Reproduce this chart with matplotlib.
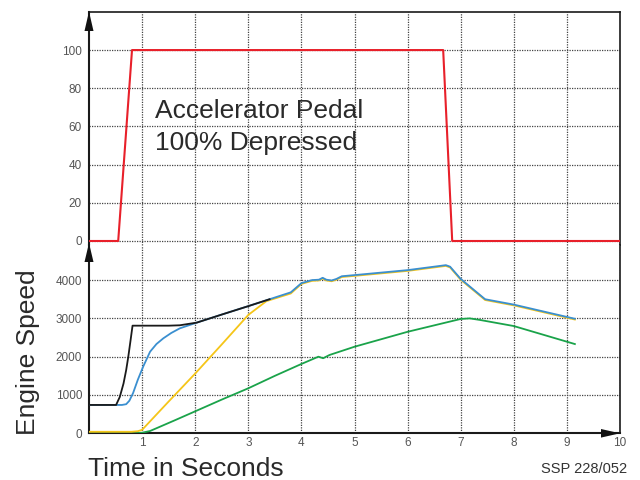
import matplotlib
matplotlib.use("Agg")
import matplotlib.pyplot as plt
from matplotlib.patches import Polygon

plt.rcParams['font.family'] = ['Liberation Sans', 'DejaVu Sans']

# accelerator pedal position (%)
pedal_t = [0, 0.55, 0.81, 6.67, 6.84, 10]
pedal_v = [0, 0, 100, 100, 0, 0]

# engine speed traces (rpm)
black_t = [0, 0.51, 0.58, 0.65, 0.70, 0.74, 0.78, 0.82, 1.0, 1.5, 1.71, 2.03, 2.5, 3.0, 3.4]
black_v = [740, 740, 950, 1300, 1650, 2000, 2400, 2810, 2810, 2810, 2820, 2890, 3100, 3320, 3500]

blue_t = [0, 0.62, 0.70, 0.76, 0.83, 0.92, 1.02, 1.15, 1.27, 1.40, 1.55, 1.71, 2.03, 2.5, 3.0,
          3.4, 3.8, 4.0, 4.2, 4.33, 4.40, 4.47, 4.57, 4.66, 4.76, 5.0, 6.0, 6.72, 6.8, 7.0,
          7.46, 8.0, 9.15]
blue_v = [740, 740, 760, 850, 1050, 1400, 1740, 2130, 2330, 2480, 2620, 2740, 2890, 3100, 3320,
          3500, 3680, 3920, 4000, 4010, 4060, 4010, 3990, 4030, 4100, 4130, 4260, 4390, 4350, 4030,
          3500, 3360, 2990]

yellow_t = [0, 0.80, 0.92, 1.0, 1.5, 2.0, 2.5, 3.0, 3.34, 3.8, 4.0, 4.2, 4.33, 4.40, 4.47, 4.57,
            4.66, 4.76, 5.0, 6.0, 6.72, 6.8, 7.0, 7.46, 8.0, 9.15]
yellow_v = [40, 40, 55, 90, 830, 1560, 2320, 3090, 3450, 3650, 3900, 3980, 3990, 4040, 3990, 3970,
            4010, 4080, 4110, 4240, 4370, 4330, 4010, 3480, 3340, 2970]

green_t = [0, 0.85, 1.0, 1.15, 1.3, 1.6, 2.0, 2.5, 3.0, 3.5, 4.0, 4.32, 4.41, 4.53, 5.0, 6.0,
           7.0, 7.17, 7.36, 8.0, 9.15]
green_v = [0, 0, 15, 60, 150, 330, 574, 880, 1175, 1500, 1810, 2000, 1960, 2045, 2260, 2650,
           2985, 3000, 2960, 2800, 2330]

pedal_ticks = [0, 20, 40, 60, 80, 100]
speed_ticks = [0, 1000, 2000, 3000, 4000]
time_ticks = [1, 2, 3, 4, 5, 6, 7, 8, 9, 10]

fig = plt.figure(figsize=(6.4, 4.8), dpi=100)
W, H = 640.0, 480.0
x0, x1 = 89, 620
ax_top = fig.add_axes([x0 / W, 1 - 245 / H, (x1 - x0) / W, (245 - 11.5) / H])
ax_bot = fig.add_axes([x0 / W, 1 - 433.3 / H, (x1 - x0) / W, (433.3 - 245) / H])

grid_kw = dict(color='#444444', linestyle=(0, (1, 1)), linewidth=0.9)

for ax in (ax_top, ax_bot):
    ax.set_xlim(0, 10)
    ax.set_xticks(time_ticks[:-1])
    ax.grid(True, **grid_kw)
    ax.tick_params(length=0, labelsize=8.5, labelcolor='#555555', pad=5)
    ax.spines['right'].set_linewidth(1.2)
    ax.spines['left'].set_linewidth(1.5)
    for s in ax.spines.values():
        s.set_color('#1a1a1a')

ax_top.plot(pedal_t, pedal_v, color='#e8202a', lw=1.5, zorder=3)
ax_top.set_ylim(-2.1, 120.2)
ax_top.set_yticks(pedal_ticks)
ax_top.spines['bottom'].set_visible(False)
ax_top.spines['top'].set_linewidth(1.2)
ax_top.tick_params(axis='x', labelbottom=False)
ax_top.text(1.24, 64.4, "Accelerator Pedal", fontsize=19,
            color='#2a2a2a', va='baseline', ha='left')
ax_top.text(1.24, 47.6, "100% Depressed", fontsize=19,
            color='#2a2a2a', va='baseline', ha='left')

ax_bot.plot(green_t, green_v, color='#1aa34a', lw=1.3, zorder=3)
ax_bot.plot(yellow_t, yellow_v, color='#f5c518', lw=1.3, zorder=3)
ax_bot.plot(blue_t, blue_v, color='#3a8fd0', lw=1.3, zorder=3)
ax_bot.plot(black_t, black_v, color='#1a1a1a', lw=1.3, zorder=3)
ax_bot.set_ylim(0, 4916)
ax_bot.set_yticks(speed_ticks)
ax_bot.spines['top'].set_visible(False)
ax_bot.spines['bottom'].set_linewidth(1.5)
ax_bot.tick_params(axis='x', pad=3)
ax_bot.set_xticks(time_ticks)
ax_bot.set_xticklabels([str(t) for t in time_ticks])

# arrow heads on the axes
def arrow(pts):
    fig.add_artist(Polygon([(px / W, 1 - py / H) for px, py in pts], closed=True,
                           facecolor='#111111', edgecolor='none', transform=fig.transFigure))

arrow([(x0, 11.5), (x0 - 4.5, 31), (x0 + 4.5, 31)])
arrow([(x0, 243), (x0 - 4.5, 262), (x0 + 4.5, 262)])
arrow([(620, 433.3), (601, 429), (601, 437.6)])

fig.text(28 / W, 1 - 352 / H, "Engine Speed", rotation=90, fontsize=19,
         color='#2a2a2a', ha='center', va='center')
fig.text(88 / W, 1 - 476 / H, "Time in Seconds", fontsize=19,
         color='#2a2a2a', ha='left', va='baseline')
fig.text(627 / W, 1 - 473 / H, "SSP 228/052", fontsize=10.5,
         color='#333333', ha='right', va='baseline')

fig.savefig("out.png", dpi=100)
